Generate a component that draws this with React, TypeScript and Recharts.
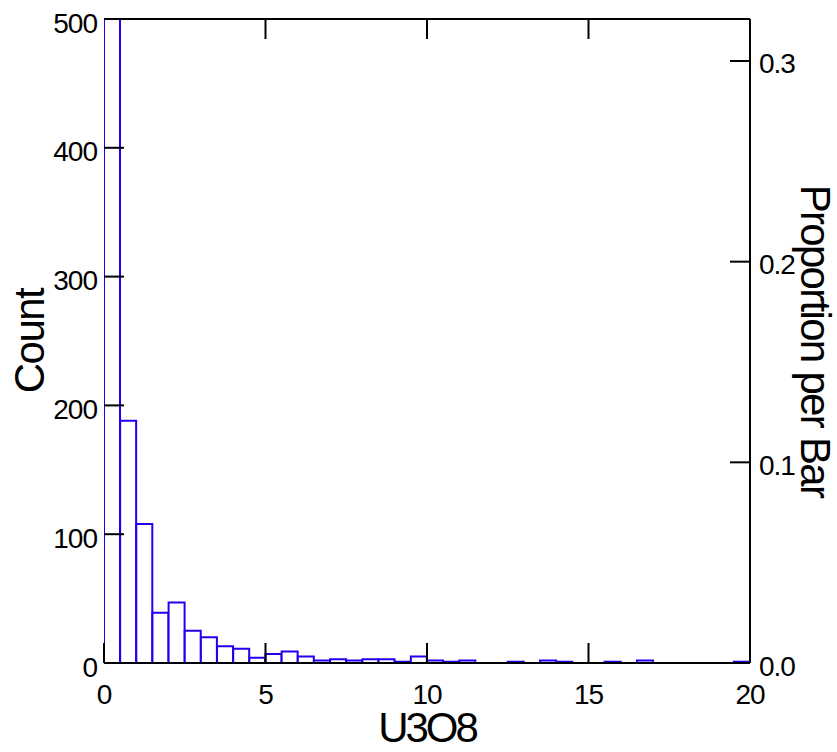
import { Bar, BarChart, Label, ReferenceLine, XAxis, YAxis } from "recharts";

// histogram of U3O8, bins of 0.5 from 0 to 20
const binWidth = 0.5;
const binStarts = [
  0, 0.5, 1, 1.5, 2, 2.5, 3, 3.5, 4, 4.5, 5, 5.5, 6, 6.5, 7, 7.5, 8, 8.5, 9,
  9.5, 10, 10.5, 11, 11.5, 12, 12.5, 13, 13.5, 14, 14.5, 15, 15.5, 16, 16.5,
  17, 17.5, 18, 18.5, 19, 19.5,
];
// first bin runs off the top of the frame (count axis stops at 500)
const counts = [
  1050, 188, 108, 39, 47, 25, 20, 13, 11, 4, 7, 9, 5, 2, 3, 2, 3, 3, 1, 5, 2,
  1, 2, 0, 0, 1, 0, 2, 1, 0, 0, 1, 0, 2, 0, 0, 0, 0, 0, 1,
];
const xTicks = [0, 5, 10, 15, 20];
const topTicks = [5, 10, 15];
const countTicks = [0, 100, 200, 300, 400, 500];
const proportionTicks = [0, 0.1, 0.2, 0.3];
const countMax = 500;

const total = counts.reduce((s, c) => s + c, 0);
const data = binStarts.map((start, i) => ({
  mid: start + binWidth / 2,
  count: counts[i],
  shown: Math.min(counts[i], countMax),
}));

const BLUE = "#2200ee";
const FONT = "'Liberation Sans', Arial, sans-serif";
const TICK_LEN = 20;

const tickText = {
  fontFamily: FONT,
  fontSize: 28,
  letterSpacing: -1,
  fill: "#000",
};

function LeftTick(props: any) {
  const { x, y, payload } = props;
  return (
    <g>
      <line x1={x} x2={x + TICK_LEN} y1={y} y2={y} stroke="#000" strokeWidth={2} />
      <text x={x - 7} y={y + 4} textAnchor="end" dominantBaseline="central" {...tickText}>
        {payload.value}
      </text>
    </g>
  );
}

function RightTick(props: any) {
  const { x, y, payload } = props;
  return (
    <g>
      <line x1={x - TICK_LEN} x2={x} y1={y} y2={y} stroke="#000" strokeWidth={2} />
      <text x={x + 9} y={y + 3} textAnchor="start" dominantBaseline="central" {...tickText}>
        {Number(payload.value).toFixed(1)}
      </text>
    </g>
  );
}

function BottomTick(props: any) {
  const { x, y, payload } = props;
  return (
    <g>
      <line x1={x} x2={x} y1={y - TICK_LEN} y2={y} stroke="#000" strokeWidth={2} />
      <text x={x} y={y + 31} textAnchor="middle" dominantBaseline="central" {...tickText}>
        {payload.value}
      </text>
    </g>
  );
}

function TopTick(props: any) {
  const { x, y } = props;
  return <line x1={x} x2={x} y1={y} y2={y + TICK_LEN} stroke="#000" strokeWidth={2} />;
}

const titleStyle = {
  fontFamily: FONT,
  fontSize: 42,
  fill: "#000",
};

export default function App() {
  return (
    <div style={{ position: "absolute", left: 0, top: 0, background: "#fff" }}>
      <BarChart
        width={837}
        height={752}
        data={data}
        margin={{ top: 18, right: 0, bottom: 0, left: 0 }}
        barCategoryGap={0}
        barGap={0}
      >
        <XAxis
          xAxisId="num"
          dataKey="mid"
          type="number"
          domain={[0, 20]}
          allowDataOverflow
          ticks={xTicks}
          height={89}
          axisLine={{ stroke: "#000", strokeWidth: 2 }}
          tickLine={false}
          tickSize={0}
          tickMargin={0}
          tick={<BottomTick />}
          interval={0}
        >
          <Label
            value="U3O8"
            position="center"
            dy={20}
            style={{ ...titleStyle, letterSpacing: -3 }}
          />
        </XAxis>
        <XAxis
          xAxisId="top"
          dataKey="mid"
          orientation="top"
          type="number"
          domain={[0, 20]}
          allowDataOverflow
          ticks={topTicks}
          height={1}
          axisLine={{ stroke: "#000", strokeWidth: 2 }}
          tickLine={false}
          tickSize={0}
          tickMargin={0}
          tick={<TopTick />}
          interval={0}
        />
        {/* the first bar spans the full height, so its edge stands in for the left axis line */}
        <YAxis
          yAxisId="count"
          domain={[0, countMax]}
          ticks={countTicks}
          width={104}
          axisLine={false}
          tickLine={false}
          tickSize={0}
          tickMargin={0}
          tick={<LeftTick />}
          interval={0}
        >
          <Label
            value="Count"
            position="center"
            angle={-90}
            dx={-23}
            style={{ ...titleStyle, letterSpacing: -1.5 }}
          />
        </YAxis>
        <YAxis
          yAxisId="prop"
          orientation="right"
          type="number"
          domain={[0, countMax / total]}
          allowDataOverflow
          ticks={proportionTicks}
          width={87}
          axisLine={{ stroke: "#000", strokeWidth: 2 }}
          tickLine={false}
          tickSize={0}
          tickMargin={0}
          tick={<RightTick />}
          interval={0}
        >
          <Label
            value="Proportion per Bar"
            position="center"
            angle={90}
            dx={22}
            style={{ ...titleStyle, letterSpacing: -1.7 }}
          />
        </YAxis>
        <Bar
          xAxisId="num"
          yAxisId="count"
          dataKey="shown"
          fill="#fff"
          stroke={BLUE}
          strokeWidth={2}
          isAnimationActive={false}
        />
        <ReferenceLine xAxisId="num" yAxisId="count" y={0} stroke={BLUE} strokeWidth={2} />
      </BarChart>
    </div>
  );
}
